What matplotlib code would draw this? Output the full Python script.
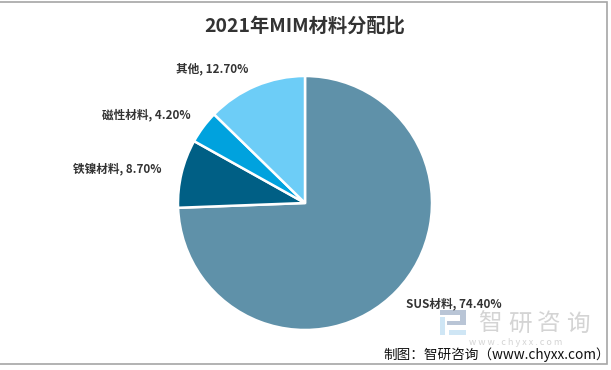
import matplotlib
matplotlib.use("Agg")
import matplotlib.pyplot as plt
from matplotlib.patches import Rectangle

categories = ["SUS材料", "铁镍材料", "磁性材料", "其他"]
values = [74.4, 8.7, 4.2, 12.7]
colors = ["#5f91a9", "#005f85", "#00a2de", "#6dcdf7"]
title = "2021年MIM材料分配比"
source = "制图：智研咨询（www.chyxx.com）"

W, H = 611, 370
plt.rcParams['font.family'] = ['Noto Sans CJK SC', 'DejaVu Sans']

fig = plt.figure(figsize=(W / 100, H / 100), dpi=100)
bg = fig.add_axes([0, 0, 1, 1])
bg.set_xlim(0, W)
bg.set_ylim(H, 0)
bg.axis('off')

# outer frame
bg.add_patch(Rectangle((-3, 2), 609.5, 362, fill=False, edgecolor='#a6a6a6', lw=1.2))

# pie, centre (305, 203) radius 127
ax = fig.add_axes([178 / W, 1 - 330 / H, 254 / W, 254 / H])
ax.pie(values, colors=colors, startangle=90, counterclock=False, radius=1.0,
       wedgeprops={'edgecolor': 'white', 'linewidth': 1.8})
ax.set_xlim(-1, 1)
ax.set_ylim(-1, 1)

bg.text(305, 26, title, fontsize=13.9, fontweight='bold', color='#333333', ha='center', va='center')

label_pos = [(454, 304), (117.5, 169), (146, 115), (212, 69)]
for cat, val, (x, y) in zip(categories, values, label_pos):
    bg.text(x, y, f"{cat}, {val:.2f}%", fontsize=8.4, fontweight='bold', color='#333333',
            ha='center', va='center')

# watermark
for x, y, w, h, c in [(440, 310, 26, 5, '#b9c5d6'), (460, 315, 6, 7, '#b9c5d6'),
                      (447, 321, 19, 4, '#b9c5d6'), (440, 317, 5, 18, '#cfe6f5'),
                      (449, 330, 17, 5, '#cfe6f5')]:
    bg.add_patch(Rectangle((x, y), w, h, facecolor=c, edgecolor='none'))
for ch, x in zip("智研咨询", [490, 520, 549, 578]):
    bg.text(x, 324, ch, fontsize=17, color='#d4d4d4', ha='center', va='center')
bg.text(516, 342.5, "w w w . c h y x x . c o m", fontsize=6.5, color='#d4d4d4', ha='center', va='center')
bg.text(497, 355, source, fontsize=9.8, color='#111111', ha='center', va='center')

fig.savefig("out.png", dpi=100)
